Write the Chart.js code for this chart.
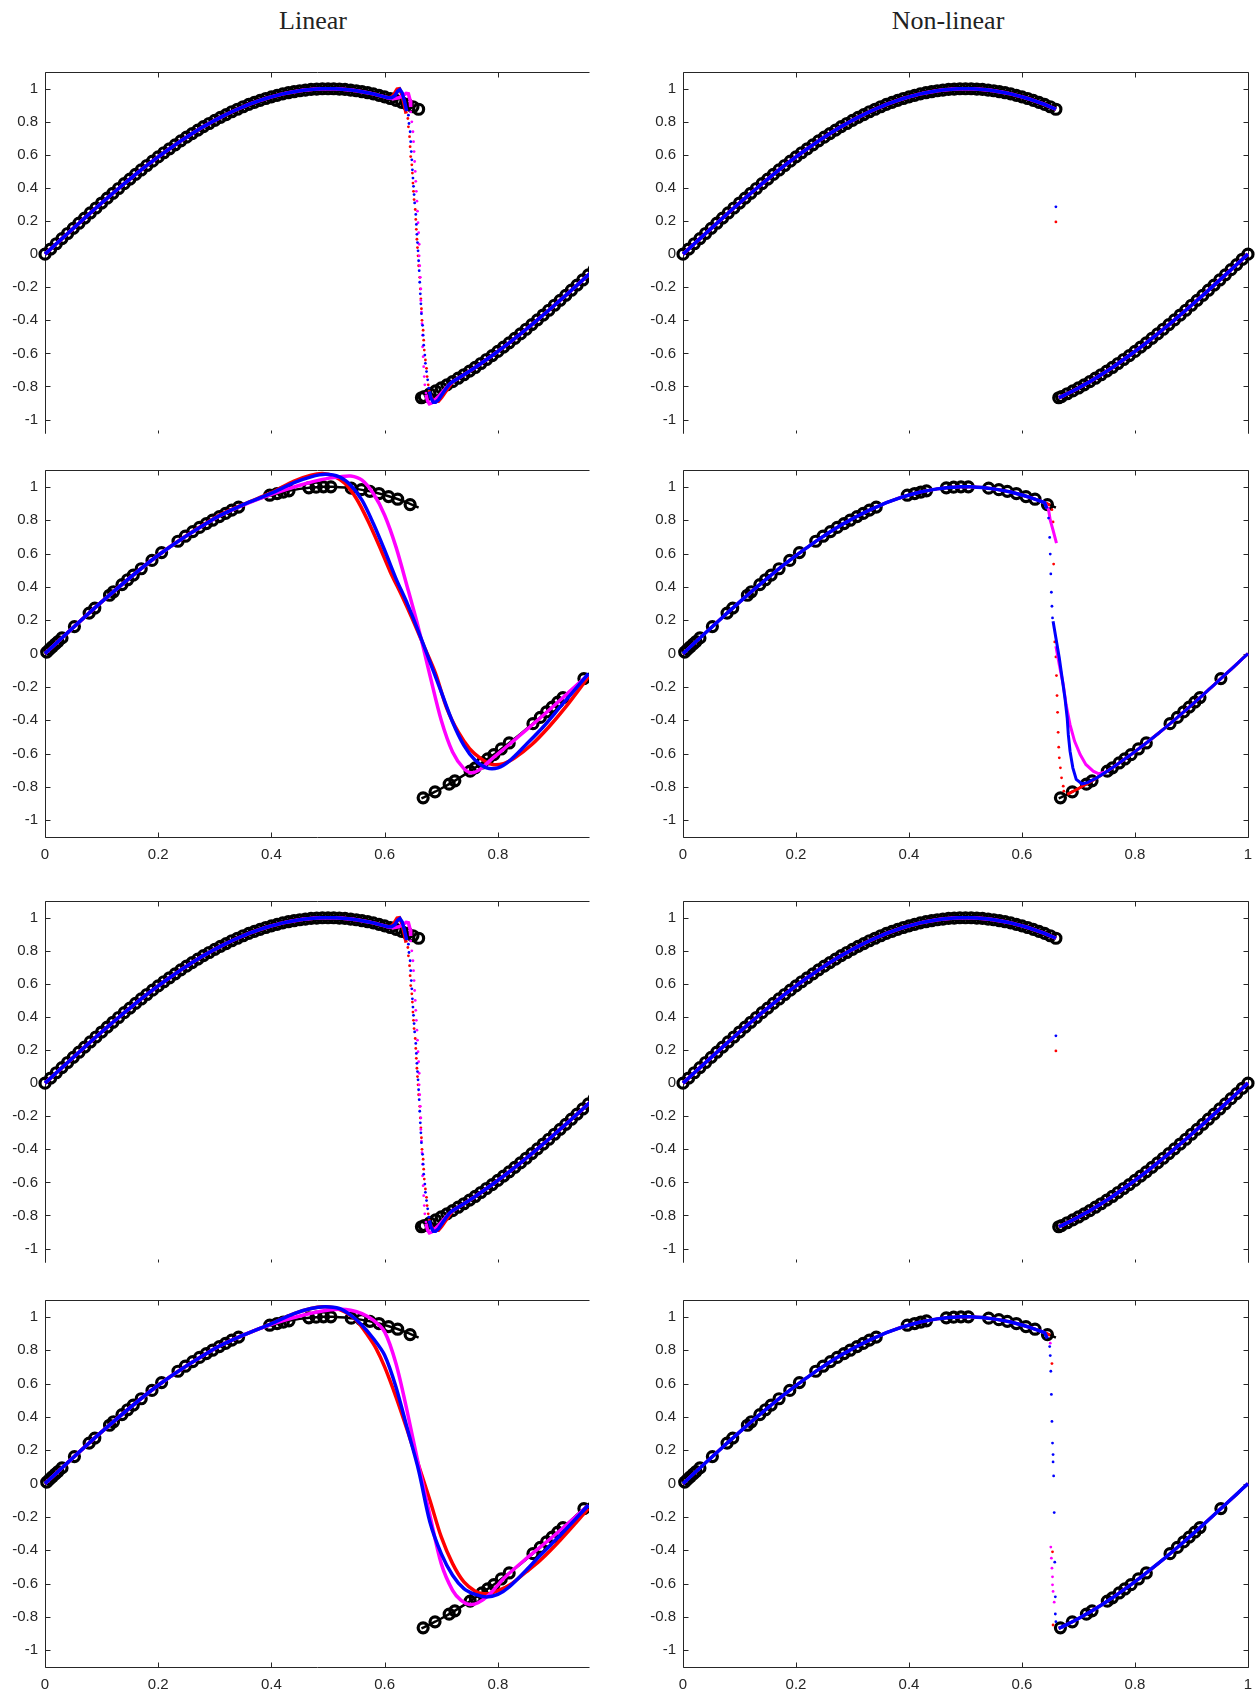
<!DOCTYPE html>
<html>
<head>
<meta charset="utf-8">
<title>Linear / Non-linear</title>
<script src="https://cdn.jsdelivr.net/npm/chart.js@4.4.0/dist/chart.umd.min.js"></script>
<style>
  body { margin: 0; background: #fff; width: 1257px; height: 1693px; position: relative; overflow: hidden; }
  canvas { position: absolute; }
  .title { position: absolute; top: 8px; font-family: "Liberation Serif", "DejaVu Serif", serif;
           font-size: 26px; line-height: 26px; color: #222; transform: translateX(-50%); white-space: nowrap; }
</style>
</head>
<body>
<div class="title" style="left:313px">Linear</div>
<div class="title" style="left:948px">Non-linear</div>
<script>
// ---- tick labels ----
const yTicks = [-1, -0.8, -0.6, -0.4, -0.2, 0, 0.2, 0.4, 0.6, 0.8, 1];
const xTicksLeft = [0, 0.2, 0.4, 0.6, 0.8];
const xTicksRight = [0, 0.2, 0.4, 0.6, 0.8, 1];

// ---- reference solution (black) ----
const exactLeftX = [0,0.01,0.02,0.03,0.04,0.05,0.06,0.07,0.08,0.09,0.10,0.11,0.12,0.13,0.14,0.15,0.16,0.17,0.18,0.19,
  0.20,0.21,0.22,0.23,0.24,0.25,0.26,0.27,0.28,0.29,0.30,0.31,0.32,0.33,0.34,0.35,0.36,0.37,0.38,0.39,
  0.40,0.41,0.42,0.43,0.44,0.45,0.46,0.47,0.48,0.49,0.50,0.51,0.52,0.53,0.54,0.55,0.56,0.57,0.58,0.59,
  0.60,0.61,0.62,0.63,0.64,0.65,0.66];
const exactLeftY = [0,0.031,0.063,0.094,0.125,0.156,0.187,0.218,0.249,0.279,0.309,0.339,0.368,0.397,0.426,0.454,0.482,0.509,0.536,0.562,
  0.588,0.613,0.637,0.661,0.685,0.707,0.729,0.750,0.771,0.790,0.809,0.827,0.844,0.861,0.876,0.891,0.905,0.918,0.930,0.941,
  0.951,0.960,0.969,0.976,0.982,0.988,0.992,0.996,0.998,1.000,1.000,1.000,0.998,0.996,0.992,0.988,0.982,0.976,0.969,0.960,
  0.951,0.941,0.930,0.918,0.905,0.891,0.876];
const exactRightX = [0.665,0.67,0.68,0.69,0.70,0.71,0.72,0.73,0.74,0.75,0.76,0.77,0.78,0.79,0.80,0.81,0.82,0.83,0.84,0.85,
  0.86,0.87,0.88,0.89,0.90,0.91,0.92,0.93,0.94,0.95,0.96,0.97,0.98,0.99,1.00];
const exactRightY = [-0.868,-0.861,-0.844,-0.827,-0.809,-0.790,-0.771,-0.750,-0.729,-0.707,-0.685,-0.661,-0.637,-0.613,-0.588,-0.562,-0.536,-0.509,-0.482,-0.454,
  -0.426,-0.397,-0.368,-0.339,-0.309,-0.279,-0.249,-0.218,-0.187,-0.156,-0.125,-0.094,-0.063,-0.031,0];

// adaptive mesh nodes (circles) in rows 2 and 4
const meshX = [0.003,0.008,0.013,0.018,0.023,0.030,0.052,0.078,0.088,0.114,0.121,0.136,0.146,0.156,0.170,0.189,0.206,
  0.235,0.248,0.261,0.273,0.285,0.296,0.308,0.319,0.330,0.342,0.397,0.410,0.421,0.431,0.466,0.479,0.492,0.505,
  0.541,0.559,0.574,0.590,0.607,0.623,0.645,
  0.668,0.689,0.714,0.724,0.751,0.760,0.772,0.782,0.793,0.806,0.820,0.862,0.875,0.886,0.896,0.906,0.915,0.952];
const meshY = [0.009,0.025,0.041,0.057,0.072,0.094,0.162,0.243,0.273,0.350,0.371,0.414,0.443,0.471,0.509,0.559,0.606,
  0.674,0.704,0.732,0.757,0.780,0.800,0.822,0.841,0.861,0.879,0.950,0.960,0.969,0.976,0.994,0.998,1.000,1.000,
  0.992,0.983,0.973,0.960,0.942,0.926,0.894,
  -0.865,-0.829,-0.783,-0.763,-0.705,-0.685,-0.656,-0.632,-0.606,-0.572,-0.536,-0.420,-0.383,-0.350,-0.321,-0.291,-0.264,-0.150];

// ---- linear scheme, rows 1 and 3: overshoot, shock dots, undershoot ----
const linTopBlue = [[0.605,0.946],[0.612,0.945],[0.618,0.958],[0.623,0.985],[0.627,0.995],[0.631,0.975],[0.635,0.925],[0.639,0.865]];
const linTopRed  = [[0.605,0.946],[0.612,0.948],[0.617,0.970],[0.622,0.998],[0.626,1.000],[0.630,0.970],[0.634,0.915],[0.638,0.850]];
const linTopMag  = [[0.605,0.946],[0.615,0.940],[0.625,0.945],[0.633,0.960],[0.638,0.972],[0.642,0.970],[0.645,0.930],[0.646,0.890]];
const linDotsBlue = [[0.642,0.84],[0.643,0.79],[0.645,0.74],[0.646,0.68],[0.647,0.62],[0.648,0.57],[0.649,0.51],[0.650,0.46],
  [0.651,0.41],[0.652,0.36],[0.653,0.31],[0.655,0.24],[0.656,0.18],[0.657,0.12],[0.658,0.07],[0.659,0.02],[0.660,-0.04],
  [0.661,-0.10],[0.662,-0.17],[0.663,-0.24],[0.664,-0.30],[0.665,-0.36],[0.667,-0.43],[0.668,-0.49],[0.669,-0.55],
  [0.671,-0.61],[0.672,-0.66],[0.674,-0.71],[0.676,-0.76],[0.678,-0.81]];
const linDotsRed = [[0.641,0.82],[0.642,0.77],[0.644,0.71],[0.645,0.65],[0.646,0.59],[0.648,0.54],[0.649,0.49],[0.650,0.43],
  [0.651,0.38],[0.652,0.33],[0.654,0.27],[0.655,0.21],[0.656,0.15],[0.657,0.09],[0.658,0.04],[0.659,-0.01],[0.660,-0.07],
  [0.662,-0.14],[0.663,-0.21],[0.664,-0.27],[0.665,-0.33],[0.666,-0.40],[0.668,-0.46],[0.669,-0.52],[0.670,-0.58],
  [0.672,-0.64],[0.674,-0.69],[0.675,-0.74],[0.677,-0.79],[0.679,-0.83]];
const linDotsMag = [[0.646,0.86],[0.648,0.80],[0.650,0.74],[0.651,0.68],[0.652,0.62],[0.653,0.56],[0.654,0.50],[0.655,0.44],
  [0.656,0.38],[0.657,0.32],[0.658,0.26],[0.659,0.19],[0.660,0.13],[0.661,0.06],[0.661,-0.01],[0.662,-0.07],[0.663,-0.14],
  [0.664,-0.21],[0.664,-0.28],[0.665,-0.35],[0.666,-0.42],[0.667,-0.49],[0.667,-0.56],[0.668,-0.62],[0.669,-0.68],
  [0.670,-0.74],[0.671,-0.79],[0.673,-0.84]];
const linLowBlue = [[0.679,-0.83],[0.682,-0.87],[0.686,-0.895],[0.690,-0.895],[0.695,-0.88],[0.701,-0.85],[0.708,-0.815],[0.715,-0.785]];
const linLowRed  = [[0.680,-0.85],[0.684,-0.875],[0.689,-0.89],[0.695,-0.89],[0.701,-0.865],[0.708,-0.83],[0.715,-0.795]];
const linLowMag  = [[0.673,-0.85],[0.676,-0.89],[0.679,-0.905],[0.683,-0.90],[0.688,-0.885],[0.695,-0.86],[0.703,-0.83],[0.712,-0.795]];

// ---- non-linear scheme, rows 1 and 3: single values inside the jump ----
const nlJumpBlue = [[0.660,0.286]];
const nlJumpRed  = [[0.660,0.195]];

// ---- linear scheme, row 2 ----
const linRed2 = [[0,0],[0.1,0.31],[0.2,0.59],[0.3,0.815],[0.35,0.895],[0.40,0.965],[0.44,1.035],[0.47,1.07],[0.49,1.08],
  [0.51,1.065],[0.53,1.02],[0.55,0.93],[0.57,0.80],[0.59,0.65],[0.61,0.49],[0.63,0.35],[0.65,0.20],[0.67,0.04],
  [0.69,-0.12],[0.71,-0.33],[0.73,-0.47],[0.75,-0.57],[0.77,-0.63],[0.79,-0.665],[0.81,-0.66],[0.83,-0.625],
  [0.86,-0.545],[0.89,-0.44],[0.92,-0.32],[0.96,-0.14]];
const linBlue2 = [[0,0],[0.1,0.31],[0.2,0.59],[0.3,0.812],[0.35,0.893],[0.40,0.962],[0.44,1.025],[0.47,1.06],[0.495,1.075],
  [0.52,1.06],[0.54,1.01],[0.56,0.92],[0.58,0.78],[0.60,0.62],[0.62,0.45],[0.64,0.30],[0.66,0.13],[0.68,-0.05],
  [0.70,-0.23],[0.72,-0.41],[0.74,-0.55],[0.76,-0.64],[0.78,-0.685],[0.80,-0.685],[0.82,-0.645],[0.85,-0.545],
  [0.88,-0.44],[0.91,-0.32],[0.96,-0.12]];
const linMag2 = [[0,0],[0.1,0.31],[0.2,0.59],[0.3,0.81],[0.35,0.89],[0.40,0.955],[0.45,1.01],[0.49,1.045],[0.52,1.06],
  [0.54,1.065],[0.56,1.04],[0.58,0.96],[0.60,0.83],[0.62,0.64],[0.64,0.40],[0.66,0.15],[0.68,-0.13],[0.70,-0.40],
  [0.72,-0.59],[0.74,-0.69],[0.755,-0.715],[0.77,-0.69],[0.79,-0.63],[0.82,-0.545],[0.86,-0.43],[0.90,-0.31],[0.96,-0.125]];

// ---- linear scheme, row 4 ----
const linRed4 = [[0,0],[0.1,0.31],[0.2,0.59],[0.3,0.81],[0.35,0.89],[0.40,0.96],[0.44,1.02],[0.47,1.05],[0.49,1.06],
  [0.51,1.055],[0.53,1.03],[0.55,0.98],[0.57,0.89],[0.585,0.81],[0.60,0.70],[0.62,0.52],[0.64,0.32],[0.66,0.11],
  [0.68,-0.10],[0.70,-0.32],[0.72,-0.48],[0.74,-0.59],[0.76,-0.645],[0.775,-0.66],[0.79,-0.655],[0.82,-0.61],
  [0.85,-0.53],[0.875,-0.46],[0.91,-0.34],[0.96,-0.15]];
const linBlue4 = [[0,0],[0.1,0.31],[0.2,0.59],[0.3,0.81],[0.35,0.89],[0.40,0.96],[0.44,1.02],[0.47,1.05],[0.495,1.06],
  [0.52,1.05],[0.54,1.01],[0.56,0.95],[0.58,0.87],[0.60,0.77],[0.62,0.58],[0.64,0.33],[0.66,0.08],[0.68,-0.23],
  [0.70,-0.42],[0.72,-0.55],[0.74,-0.63],[0.76,-0.665],[0.78,-0.68],[0.80,-0.665],[0.82,-0.62],[0.85,-0.52],
  [0.875,-0.43],[0.91,-0.31],[0.96,-0.13]];
const linMag4 = [[0,0],[0.1,0.31],[0.2,0.59],[0.3,0.81],[0.35,0.89],[0.40,0.955],[0.45,1.005],[0.49,1.035],[0.52,1.045],
  [0.54,1.04],[0.56,1.02],[0.58,0.98],[0.60,0.91],[0.62,0.72],[0.64,0.43],[0.66,0.11],[0.68,-0.19],[0.70,-0.48],
  [0.72,-0.64],[0.735,-0.70],[0.75,-0.725],[0.765,-0.715],[0.785,-0.665],[0.81,-0.57],[0.85,-0.45],[0.90,-0.31],[0.96,-0.13]];

// ---- non-linear scheme, row 2 ----
const nl2BlueDots = [[0.647,0.813],[0.649,0.697],[0.650,0.597],[0.651,0.478],[0.652,0.368],[0.653,0.284],[0.654,0.214]];
const nl2BlueDense = [[0.655,0.194],[0.660,0.094],[0.666,-0.026],[0.671,-0.146],[0.676,-0.266],[0.680,-0.386],[0.682,-0.486],
  [0.685,-0.585],[0.690,-0.685],[0.696,-0.755],[0.706,-0.781],[0.716,-0.774],[0.726,-0.756]];
const nl2MagTop = [[0.647,0.863],[0.650,0.80],[0.655,0.74],[0.661,0.663]];
const nl2MagDense = [[0.660,0.044],[0.666,-0.066],[0.673,-0.186],[0.678,-0.306],[0.685,-0.426],[0.693,-0.525],[0.703,-0.605],
  [0.713,-0.665],[0.726,-0.705],[0.736,-0.721],[0.746,-0.712]];
const nl2RedDots = [[0.653,0.863],[0.655,0.79],[0.656,0.537],[0.658,0.07],[0.660,-0.02],[0.661,-0.132],[0.662,-0.252],
  [0.663,-0.352],[0.664,-0.472],[0.665,-0.561],[0.666,-0.625],[0.668,-0.685],[0.670,-0.745],[0.673,-0.795],[0.674,-0.825]];

// ---- non-linear scheme, row 4 ----
const nl4BlueDots = [[0.649,0.822],[0.650,0.768],[0.651,0.674],[0.652,0.535],[0.653,0.373],[0.654,0.243],[0.655,0.174],
  [0.655,0.130],[0.656,0.046],[0.657,-0.174],[0.658,-0.471],[0.659,-0.679],[0.659,-0.782],[0.660,-0.828]];
const nl4MagDots = [[0.650,0.842],[0.651,-0.381],[0.652,-0.447],[0.653,-0.507],[0.654,-0.559],[0.654,-0.607],[0.655,-0.647],[0.657,-0.711]];
const nl4RedDots = [[0.653,0.720],[0.654,-0.409],[0.655,-0.848]];

// ---- layout ----
const BLUE = '#0000ff', RED = '#ff0000', MAG = '#ff00ff', BLACK = '#000000', INK = '#262626';
const FONT = '"Liberation Sans", Arial, sans-serif';
const UNIT = 166.7;           // px per y unit
const AXW = 45, PADT = 8, PADR = 10;
const ROWS = [
  { top: 72,   yMin: -1.08, labels: false, bottomLine: false, xh: 6 },
  { top: 470,  yMin: -1.1,  labels: true,  bottomLine: true,  xh: 32 },
  { top: 901,  yMin: -1.08, labels: false, bottomLine: false, xh: 6 },
  { top: 1300, yMin: -1.1,  labels: true,  bottomLine: true,  xh: 32 }
];
const COLS = [
  { left: 45,  width: 544, xMax: 0.961, xTicks: xTicksLeft,  rightLine: false, clip: { left: 8, top: 8, right: 0, bottom: 8 } },
  { left: 683, width: 565, xMax: 1,     xTicks: xTicksRight, rightLine: true,  clip: { left: 8, top: 8, right: 8, bottom: 8 } }
];

const zip = (xs, ys) => xs.map((x, i) => ({ x: x, y: ys[i] }));
const pts = arr => arr.map(p => ({ x: p[0], y: p[1] }));
const exactL = zip(exactLeftX, exactLeftY);
const exactR = zip(exactRightX, exactRightY);
const mesh = zip(meshX, meshY);
const leftUpTo = x1 => exactL.filter(p => p.x <= x1 + 1e-9);
const rightFrom = x0 => exactR.filter(p => p.x >= x0 - 1e-9);

function line(data, color, width, tension) {
  return { data: data, showLine: true, borderColor: color, borderWidth: width, pointRadius: 0, tension: tension || 0, fill: false };
}
function dots(data, color) {
  return { data: data, showLine: false, pointRadius: 1.4, pointBorderWidth: 0, pointBackgroundColor: color, backgroundColor: color };
}
function rings(data) {
  return { data: data, showLine: false, pointRadius: 5, pointBorderWidth: 3.2, pointBorderColor: BLACK, pointBackgroundColor: 'rgba(0,0,0,0)' };
}

// MATLAB-like box with inward ticks
const boxPlugin = {
  id: 'box',
  beforeDatasetsDraw(chart, args, opts) {
    const { ctx, chartArea: a, scales } = chart;
    const px = v => Math.round(v) + 0.5;
    const L = px(a.left), R = px(a.right), T = px(a.top), B = px(a.bottom);
    const tl = 5;
    ctx.save();
    ctx.strokeStyle = INK;
    ctx.lineWidth = 1;
    ctx.beginPath();
    ctx.moveTo(L, B); ctx.lineTo(L, T); ctx.lineTo(R, T);
    if (opts.rightLine) { ctx.moveTo(R, T); ctx.lineTo(R, B); }
    if (opts.bottomLine) { ctx.moveTo(L, B); ctx.lineTo(R, B); }
    scales.x.ticks.forEach(t => {
      const x = px(scales.x.getPixelForValue(t.value));
      ctx.moveTo(x, T); ctx.lineTo(x, T + tl);
      ctx.moveTo(x, B); ctx.lineTo(x, B - (opts.bottomLine ? tl : 3));
    });
    scales.y.ticks.forEach(t => {
      const y = px(scales.y.getPixelForValue(t.value));
      ctx.moveTo(L, y); ctx.lineTo(L + tl, y);
      if (opts.rightLine) { ctx.moveTo(R, y); ctx.lineTo(R - tl, y); }
    });
    ctx.stroke();
    ctx.restore();
  }
};

function panel(row, col, datasets) {
  const R = ROWS[row], C = COLS[col];
  const plotH = Math.round((1.1 - R.yMin) * UNIT);
  const w = AXW + C.width + PADR, h = PADT + plotH + R.xh;
  const cv = document.createElement('canvas');
  cv.width = w; cv.height = h;
  cv.style.width = w + 'px'; cv.style.height = h + 'px';
  cv.style.left = (C.left - AXW) + 'px';
  cv.style.top = (R.top - PADT) + 'px';
  document.body.appendChild(cv);
  datasets.forEach(d => { d.clip = C.clip; });
  const tickFont = { family: FONT, size: 15 };
  new Chart(cv, {
    type: 'scatter',
    data: { datasets: datasets },
    plugins: [boxPlugin],
    options: {
      responsive: false, animation: false, devicePixelRatio: 1, events: [],
      layout: { padding: { top: PADT, right: PADR, left: 0, bottom: 0 } },
      plugins: { legend: { display: false }, tooltip: { enabled: false },
                 box: { rightLine: C.rightLine, bottomLine: R.bottomLine } },
      scales: {
        x: {
          type: 'linear', min: 0, max: C.xMax,
          grid: { display: false, drawTicks: false }, border: { display: false },
          afterBuildTicks: s => { s.ticks = C.xTicks.map(v => ({ value: v })); },
          afterFit: s => { s.height = R.xh; s.paddingLeft = 0; s.paddingRight = 0; },
          ticks: { display: R.labels, autoSkip: false, maxRotation: 0, padding: 9, color: INK, font: tickFont,
                   callback: v => String(v) }
        },
        y: {
          type: 'linear', min: R.yMin, max: 1.1,
          grid: { display: false, drawTicks: false }, border: { display: false },
          afterBuildTicks: s => { s.ticks = yTicks.map(v => ({ value: v })); },
          afterFit: s => { s.width = AXW; s.paddingTop = 0; s.paddingBottom = 0; },
          ticks: { autoSkip: false, padding: 7, color: INK, font: tickFont, callback: v => String(v) }
        }
      }
    }
  });
}

// datasets are listed top layer first
function linearShockPanel(row) {
  panel(row, 0, [
    line(leftUpTo(0.60).concat(pts(linTopBlue)), BLUE, 3.5),
    line(pts(linLowBlue).concat(rightFrom(0.72)), BLUE, 3.5),
    dots(pts(linDotsBlue), BLUE),
    line(leftUpTo(0.60).concat(pts(linTopMag)), MAG, 3.5),
    line(pts(linLowMag).concat(rightFrom(0.72)), MAG, 3.5),
    dots(pts(linDotsMag), MAG),
    line(leftUpTo(0.60).concat(pts(linTopRed)), RED, 3.5),
    line(pts(linLowRed).concat(rightFrom(0.72)), RED, 3.5),
    dots(pts(linDotsRed), RED),
    rings(exactL), rings(exactR)
  ]);
}
function nonlinearJumpPanel(row) {
  panel(row, 1, [
    line(exactL, BLUE, 3.5), line(exactR, BLUE, 3.5), dots(pts(nlJumpBlue), BLUE),
    line(exactL, MAG, 3.5), line(exactR, MAG, 3.5),
    line(exactL, RED, 3.5), line(exactR, RED, 3.5), dots(pts(nlJumpRed), RED),
    rings(exactL), rings(exactR)
  ]);
}
function linearSmearPanel(row, blue, mag, red) {
  panel(row, 0, [
    line(pts(blue), BLUE, 3.5, 0.3),
    line(pts(mag), MAG, 3.5, 0.3),
    line(pts(red), RED, 3.5, 0.3),
    rings(mesh),
    line(exactL, BLACK, 2.5), line(exactR, BLACK, 2.5)
  ]);
}

linearShockPanel(0);
nonlinearJumpPanel(0);

linearSmearPanel(1, linBlue2, linMag2, linRed2);
panel(1, 1, [
  line(leftUpTo(0.64).concat(pts([[0.644, 0.87]])), BLUE, 3.5),
  dots(pts(nl2BlueDots), BLUE),
  line(pts(nl2BlueDense).concat(rightFrom(0.73)), BLUE, 3),
  line(leftUpTo(0.64).concat(pts(nl2MagTop)), MAG, 3),
  line(pts(nl2MagDense).concat(rightFrom(0.75)), MAG, 3),
  line(leftUpTo(0.65), RED, 3),
  dots(pts(nl2RedDots), RED),
  line(rightFrom(0.68), RED, 3),
  rings(mesh),
  line(exactL, BLACK, 2.5), line(exactR, BLACK, 2.5)
]);

linearShockPanel(2);
nonlinearJumpPanel(2);

linearSmearPanel(3, linBlue4, linMag4, linRed4);
panel(3, 1, [
  line(leftUpTo(0.64).concat(pts([[0.645, 0.87]])), BLUE, 3.5),
  dots(pts(nl4BlueDots), BLUE),
  line(rightFrom(0.665), BLUE, 3.5),
  line(leftUpTo(0.64), MAG, 3),
  dots(pts(nl4MagDots), MAG),
  line(rightFrom(0.665), MAG, 3),
  line(leftUpTo(0.65), RED, 3),
  dots(pts(nl4RedDots), RED),
  line(rightFrom(0.665), RED, 3),
  rings(mesh),
  line(exactL, BLACK, 2.5), line(exactR, BLACK, 2.5)
]);
</script>
</body>
</html>
